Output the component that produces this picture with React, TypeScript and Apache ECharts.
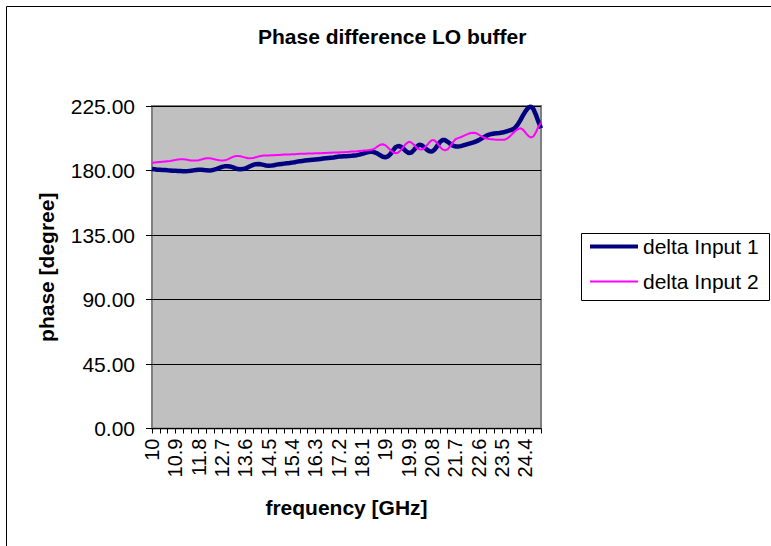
import React, { useEffect, useRef } from "react";
import * as echarts from "echarts";

const TITLE = "Phase difference LO buffer";
const X_NAME = "frequency [GHz]";
const Y_NAME = "phase [degree]";
const SERIES_NAMES = ["delta Input 1", "delta Input 2"];
const FREQ_START = 10;
const FREQ_STEP = 0.1;
const Y_MIN = 0;
const Y_MAX = 225;
const Y_STEP = 45;

// delta Input 1 (navy), 10.0 .. 25.0 GHz
const DELTA_INPUT_1 = [
  181.0, 180.8, 180.6, 180.5, 180.4, 180.3, 180.1, 180.0, 179.9, 179.8,
  179.7, 179.6, 179.5, 179.5, 179.6, 179.8, 180.1, 180.4, 180.6, 180.6,
  180.4, 180.1, 180.0, 180.2, 180.6, 181.2, 181.9, 182.5, 182.9, 183.0,
  182.8, 182.3, 181.6, 181.0, 180.8, 181.0, 181.5, 182.2, 183.1, 183.9,
  184.4, 184.5, 184.3, 183.9, 183.5, 183.3, 183.4, 183.7, 184.1, 184.4,
  184.6, 184.8, 185.0, 185.2, 185.5, 185.8, 186.2, 186.5, 186.7, 186.9,
  187.1, 187.3, 187.5, 187.7, 187.9, 188.1, 188.3, 188.5, 188.7, 188.9,
  189.1, 189.4, 189.7, 189.8, 189.9, 190.0, 190.2, 190.3, 190.5, 190.7,
  191.1, 191.6, 192.2, 192.7, 193.0, 193.0, 192.6, 191.8, 190.6, 189.6,
  189.2, 189.8, 191.6, 194.2, 196.4, 197.1, 196.6, 195.1, 193.3, 192.2,
  192.5, 194.3, 196.6, 198.0, 197.7, 196.2, 194.5, 193.4, 193.2, 194.6,
  197.2, 199.8, 201.3, 201.2, 200.0, 198.6, 197.4, 196.8, 196.7, 197.0,
  197.5, 198.1, 198.6, 199.1, 199.6, 200.3, 201.2, 202.2, 203.3, 204.3,
  205.0, 205.5, 205.8, 206.0, 206.2, 206.5, 206.9, 207.4, 208.0, 208.6,
  209.8, 212.0, 215.0, 218.3, 221.3, 223.7, 224.6, 223.2, 219.0, 214.0,
  209.5,
];

// delta Input 2 (magenta), 10.0 .. 25.0 GHz
const DELTA_INPUT_2 = [
  185.3, 185.5, 185.7, 185.9, 186.1, 186.3, 186.5, 186.7, 187.0, 187.3,
  187.6, 187.8, 187.8, 187.6, 187.3, 187.0, 186.9, 186.9, 187.2, 187.7,
  188.2, 188.5, 188.5, 188.3, 187.9, 187.5, 187.2, 187.0, 187.1, 187.6,
  188.4, 189.3, 190.0, 190.2, 190.0, 189.5, 189.0, 188.6, 188.5, 188.7,
  189.2, 189.7, 190.1, 190.4, 190.5, 190.5, 190.6, 190.7, 190.8, 190.9,
  191.0, 191.1, 191.2, 191.2, 191.3, 191.4, 191.5, 191.6, 191.6, 191.7,
  191.8, 191.9, 191.9, 192.0, 192.0, 192.1, 192.2, 192.2, 192.3, 192.4,
  192.5, 192.5, 192.6, 192.7, 192.8, 192.9, 193.0, 193.2, 193.3, 193.4,
  193.6, 193.8, 194.0, 194.1, 194.3, 194.6, 195.5, 196.8, 197.9, 198.3,
  197.6, 196.0, 194.1, 192.6, 192.0, 192.6, 194.3, 196.6, 198.8, 200.0,
  199.6, 198.0, 196.0, 194.9, 194.6, 195.6, 197.6, 199.8, 201.3, 200.9,
  199.0, 196.6, 194.7, 194.0, 194.8, 197.0, 199.6, 201.8, 202.6, 203.2,
  204.0, 204.8, 205.6, 206.2, 206.4, 206.0, 205.0, 203.9, 202.9, 202.3,
  202.0, 201.8, 201.6, 201.5, 201.4, 201.4, 201.5, 202.3, 203.8, 205.6,
  207.4, 208.8, 209.5, 208.6, 206.5, 204.3, 203.0, 203.6, 206.5, 210.5,
  213.5,
];

const CATEGORIES = DELTA_INPUT_1.map((_, i) =>
  String(parseFloat((FREQ_START + i * FREQ_STEP).toFixed(1)))
);

const FONT = "'Liberation Sans', Arial, sans-serif";

export default function App() {
  const ref = useRef<HTMLDivElement>(null);
  useEffect(() => {
    if (!ref.current) return;
    const chart = echarts.init(ref.current, undefined, { renderer: "svg" });
    chart.setOption({
      animation: false,
      backgroundColor: "#ffffff",
      title: {
        text: TITLE,
        left: 258,
        top: 26,
        padding: 0,
        textStyle: { fontFamily: FONT, fontSize: 21, fontWeight: "bold", color: "#000" },
      },
      legend: {
        orient: "vertical",
        left: 590,
        top: 236,
        padding: 0,
        itemWidth: 48,
        itemHeight: 14,
        itemGap: 14,
        textStyle: { fontFamily: FONT, fontSize: 21, lineHeight: 21, color: "#000" },
        data: [
          { name: SERIES_NAMES[0], icon: "path://M0,0h48v4h-48z" },
          { name: SERIES_NAMES[1], icon: "path://M0,0h48v2h-48z" },
        ],
      },
      graphic: [
        {
          type: "rect",
          shape: { x: 6.5, y: 6.5, width: 900, height: 700 },
          style: { fill: "none", stroke: "#000", lineWidth: 1 },
          silent: true,
        },
        {
          type: "rect",
          shape: { x: 581.5, y: 233.5, width: 188, height: 67 },
          style: { fill: "none", stroke: "#000", lineWidth: 1 },
          silent: true,
        },
      ],
      grid: {
        left: 152,
        top: 106,
        width: 389,
        height: 322.5,
        show: true,
        backgroundColor: "#C0C0C0",
        borderColor: "#808080",
        borderWidth: 2,
      },
      xAxis: {
        type: "category",
        data: CATEGORIES,
        boundaryGap: false,
        name: X_NAME,
        nameLocation: "middle",
        nameGap: 68,
        nameTextStyle: { fontFamily: FONT, fontSize: 21, fontWeight: "bold", color: "#000" },
        axisLine: { show: true, lineStyle: { color: "#000", width: 1 } },
        axisTick: { show: true, interval: 2, length: 5, lineStyle: { color: "#000" } },
        axisLabel: {
          interval: 8,
          rotate: 90,
          margin: 10,
          fontFamily: FONT,
          fontSize: 20,
          color: "#000",
        },
        splitLine: { show: false },
      },
      yAxis: {
        type: "value",
        min: Y_MIN,
        max: Y_MAX,
        interval: Y_STEP,
        name: Y_NAME,
        nameLocation: "middle",
        nameGap: 95,
        nameTextStyle: { fontFamily: FONT, fontSize: 21, fontWeight: "bold", color: "#000" },
        axisLine: { show: false },
        axisTick: { show: true, length: 6, lineStyle: { color: "#000" } },
        axisLabel: {
          margin: 17,
          fontFamily: FONT,
          fontSize: 21,
          color: "#000",
          formatter: (v: number) => v.toFixed(2),
        },
        splitLine: { show: true, lineStyle: { color: "#000", width: 1 } },
      },
      series: [
        {
          name: SERIES_NAMES[0],
          type: "line",
          data: DELTA_INPUT_1,
          symbol: "none",
          color: "#000080",
          lineStyle: { color: "#000080", width: 4.5 },
          z: 2,
        },
        {
          name: SERIES_NAMES[1],
          type: "line",
          data: DELTA_INPUT_2,
          symbol: "none",
          color: "#FF00FF",
          lineStyle: { color: "#FF00FF", width: 2 },
          z: 3,
        },
      ],
    });
    return () => chart.dispose();
  }, []);
  return (
    <div
      ref={ref}
      style={{ position: "absolute", left: 0, top: 0, width: 771, height: 546 }}
    />
  );
}
